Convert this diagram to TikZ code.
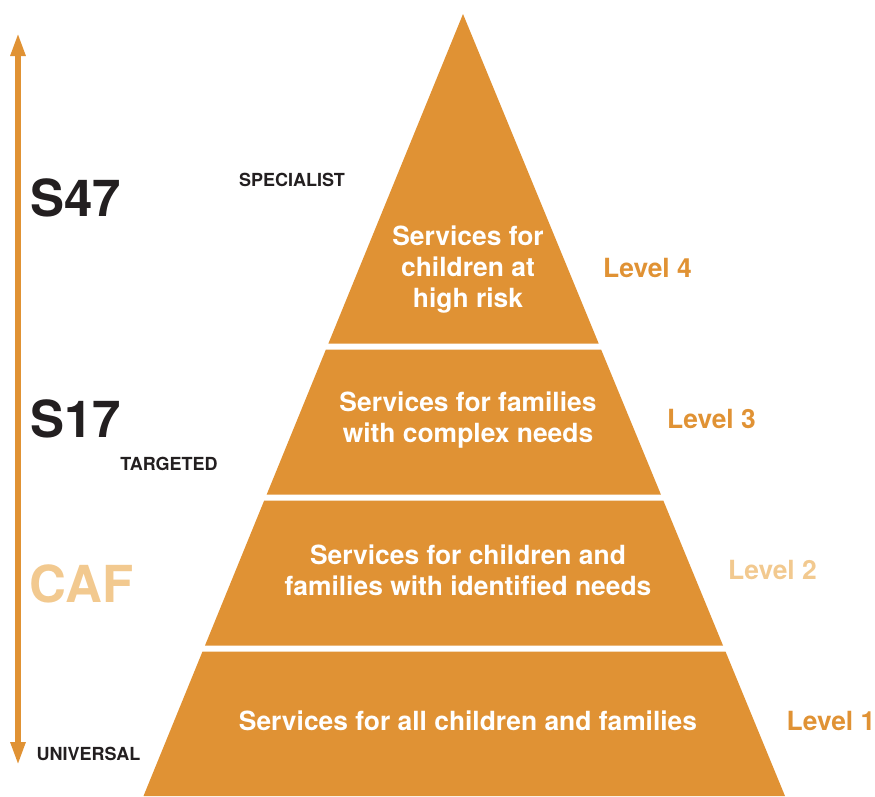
\documentclass[tikz,border=0pt]{standalone}
\usepackage{fontspec}
\setmainfont{TeX Gyre Heros}
\usetikzlibrary{arrows.meta}
\definecolor{tierorange}{HTML}{E09234}
\definecolor{paleorange}{HTML}{F2C98F}
\definecolor{inkdark}{HTML}{231F20}
\tikzset{
  band/.style={fill=tierorange, draw=none},
  bandtext/.style={text=white, font=\bfseries\fontsize{26.4}{31}\selectfont, align=center},
  levellabel/.style={text=tierorange, font=\bfseries\fontsize{26.4}{31}\selectfont},
  codelabel/.style={text=inkdark, font=\bfseries\fontsize{51}{56}\selectfont},
  tierlabel/.style={text=inkdark, font=\bfseries\fontsize{18}{20}\selectfont},
}
\begin{document}
\begin{tikzpicture}[x=1pt, y=-1pt]
\useasboundingbox (0,0) rectangle (875,796);

% pyramid bands, top to bottom
\fill[band] (463,14) -- (598.7,343.5) -- (328.4,343.5) -- cycle;
\fill[band] (325.9,349.5) -- (601.1,349.5) -- (660.9,494.5) -- (266.7,494.5) -- cycle;
\fill[band] (264.2,500.5) -- (663.3,500.5) -- (723.0,645.5) -- (205.0,645.5) -- cycle;
\fill[band] (202.5,651.5) -- (725.5,651.5) -- (785,796) -- (143.5,796) -- cycle;

% band texts
\node[bandtext] (t4) at (468,269.5) {Services for\\children at\\high risk};
\node[bandtext] (t3) at (468,420) {Services for families\\with complex needs};
\node[bandtext] (t2) at (468,570) {Services for children and\\families with identified needs};
\node[bandtext] (t1) at (468,721) {Services for all children and families};

% level labels
\node[levellabel] (l4) at (647.5,268) {Level 4};
\node[levellabel] (l3) at (711.5,419) {Level 3};
\node[levellabel, text=paleorange] (l2) at (772.5,570) {Level 2};
\node[levellabel] (l1) at (831,721) {Level 1};

% vertical scale arrow
\coordinate (atop) at (18,33);
\coordinate (abot) at (18,765);
\draw[tierorange, line width=5.5pt,
  {Triangle[length=23pt,width=14pt]}-{Triangle[length=23pt,width=14pt]}] (abot) -- (atop);

% scale labels
\node[codelabel] (s47) at (75.5,198) {S47};
\node[codelabel] (s17) at (75.5,419) {S17};
\node[codelabel, text=paleorange] (caf) at (81.5,584) {CAF};
\node[tierlabel] (spec) at (292,179.5) {SPECIALIST};
\node[tierlabel] (targ) at (169,463.5) {TARGETED};
\node[tierlabel] (univ) at (88.5,753.5) {UNIVERSAL};
\end{tikzpicture}
\end{document}
